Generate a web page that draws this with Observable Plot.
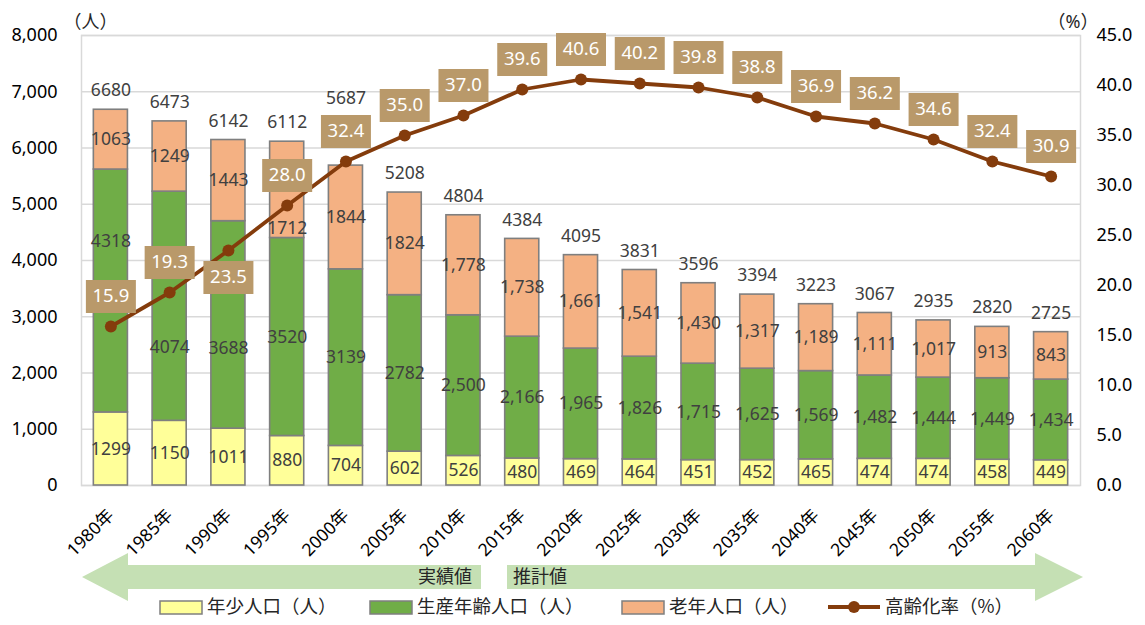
<!DOCTYPE html>
<html><head><meta charset="utf-8">
<script src="https://cdn.jsdelivr.net/npm/d3@7"></script>
<script src="https://cdn.jsdelivr.net/npm/@observablehq/plot@0.6"></script>
<style>
body{margin:0;background:#fff;font-family:"Noto Sans","Noto Sans CJK JP",sans-serif;}
#wrap{width:1145px;height:625px;position:relative;overflow:hidden;}
#below{position:absolute;left:0;top:550px;}
</style></head>
<body><div id="wrap"><div id="chart"></div>
<svg id="below" width="1145" height="75"></svg></div>
<script>
const years = [1980,1985,1990,1995,2000,2005,2010,2015,2020,2025,2030,2035,2040,2045,2050,2055,2060];
const young   = [1299,1150,1011,880,704,602,526,480,469,464,451,452,465,474,474,458,449];
const working = [4318,4074,3688,3520,3139,2782,2500,2166,1965,1826,1715,1625,1569,1482,1444,1449,1434];
const elderly = [1063,1249,1443,1712,1844,1824,1778,1738,1661,1541,1430,1317,1189,1111,1017,913,843];
const totals  = [6680,6473,6142,6112,5687,5208,4804,4384,4095,3831,3596,3394,3223,3067,2935,2820,2725];
const agingRate = [15.9,19.3,23.5,28.0,32.4,35.0,37.0,39.6,40.6,40.2,39.8,38.8,36.9,36.2,34.6,32.4,30.9];
const categories = ["年少人口（人）","生産年齢人口（人）","老年人口（人）"];
const lineName = "高齢化率（%）";
const leftTicks = [0,1000,2000,3000,4000,5000,6000,7000,8000];
const rightTicks = [0,5,10,15,20,25,30,35,40,45];

const colors = ["#FFFF99","#70AD47","#F4B183"];
const lineColor = "#843C0C";
const boxColor = "#B9996A";
const labelColor = "#404040";
const yMax = 8000, rMax = 45, k = yMax / rMax;

const series = [young, working, elderly];
const stackData = [];
const segLabels = [];
years.forEach((yr, i) => {
  let base = 0;
  series.forEach((s, c) => {
    const v = s[i];
    stackData.push({year: yr, cat: categories[c], value: v});
    const fmt = i >= 6 ? d3.format(",") : String;
    segLabels.push({year: yr, i, c, mid: base + v / 2, label: fmt(v)});
    base += v;
  });
});
// manual label nudges (pixels), as in the reference
const nudge = {"1-0": -50, "1-1": 41, "1-2": 23, "2-3": 39};
segLabels.forEach(d => d.dy = nudge[d.c + "-" + d.i] || 0);
const totalNudge = {4: -48};
const totalData = years.map((yr, i) => ({year: yr, total: totals[i], dy: -19 + (totalNudge[i] || 0)}));
const rateData = years.map((yr, i) => ({year: yr, rate: agingRate[i], yv: agingRate[i] * k, below: i === 2}));

const boxSymbol = {draw(ctx) { ctx.moveTo(-25,-16.5); ctx.lineTo(25,-16.5); ctx.lineTo(25,16.5); ctx.lineTo(-25,16.5); ctx.closePath(); }};

const segMarks = Array.from(d3.group(segLabels, d => d.dy), ([dy, arr]) =>
  Plot.text(arr, {x: "year", y: "mid", text: "label", dy, fill: labelColor, fontSize: 17.5}));
const totalMarks = Array.from(d3.group(totalData, d => d.dy), ([dy, arr]) =>
  Plot.text(arr, {x: "year", y: "total", text: d => String(d.total), dy, fill: labelColor, fontSize: 17.5}));

const rateMarks = [[false, -30], [true, 27]].flatMap(([b, dy]) => {
  const arr = rateData.filter(d => d.below === b);
  return [
    Plot.dot(arr, {x: "year", y: "yv", symbol: boxSymbol, fill: boxColor, stroke: "none", dy}),
    Plot.text(arr, {x: "year", y: "yv", text: d => d.rate.toFixed(1), fill: "#fff", fontSize: 18.5, dy})
  ];
});

const chart = Plot.plot({
  width: 1145, height: 550,
  marginTop: 35, marginBottom: 65, marginLeft: 81, marginRight: 65,
  style: {fontFamily: '"Noto Sans","Noto Sans CJK JP",sans-serif', fontSize: "18px", overflow: "visible", background: "transparent"},
  x: {type: "band", domain: years, paddingInner: 0.42, paddingOuter: 0.21, round: false, label: null, axis: null},
  y: {domain: [0, yMax], label: null},
  color: {domain: categories, range: colors},
  marks: [
    Plot.gridY(leftTicks, {stroke: "#D9D9D9", strokeOpacity: 1, strokeWidth: 1.3}),
    Plot.frame({stroke: "#D9D9D9", strokeWidth: 1.5}),
    Plot.axisY(leftTicks, {anchor: "left", tickSize: 0, tickPadding: 24, tickFormat: d3.format(","), label: null, fill: "#000", fontSize: 18}),
    Plot.axisY(rightTicks.map(v => v * k), {anchor: "right", tickSize: 0, tickPadding: 16, tickFormat: v => (v / k).toFixed(1), label: null, fill: "#000", fontSize: 18}),
    Plot.text(years, {x: d => d, frameAnchor: "bottom", text: d => d + "年", rotate: -45, textAnchor: "end", lineAnchor: "middle", dx: 0, dy: 27, fill: "#000", fontSize: 17.5}),
    Plot.barY(stackData, {x: "year", y: "value", fill: "cat", stroke: "#7F7F7F", strokeWidth: 1.6, order: categories}),
    ...segMarks,
    ...totalMarks,
    Plot.line(rateData, {x: "year", y: "yv", stroke: lineColor, strokeWidth: 3.8}),
    Plot.dot(rateData, {x: "year", y: "yv", r: 6, fill: lineColor, stroke: "none"}),
    ...rateMarks,
    Plot.text(["（人）"], {frameAnchor: "top-left", dx: -18, dy: -20, fill: "#262626", fontSize: 18}),
    Plot.text(["（%）"], {frameAnchor: "top-right", dx: 18, dy: -20, fill: "#262626", fontSize: 18})
  ]
});
document.getElementById("chart").appendChild(chart);

// arrows + legend
const svg = d3.select("#below");
const g = svg.append("g");
g.append("polygon").attr("points", "82,27 128,3 128,15 481,15 481,39 128,39 128,51").attr("fill", "#C5E0B4");
g.append("polygon").attr("points", "507,15 1035,15 1035,3 1083,27 1035,51 1035,39 507,39").attr("fill", "#C5E0B4");
g.append("text").attr("x", 472).attr("y", 28).attr("text-anchor", "end").attr("dominant-baseline", "middle")
  .attr("font-size", 18).attr("fill", "#262626").attr("font-family", '"Noto Sans CJK JP"').text("実績値");
g.append("text").attr("x", 513).attr("y", 28).attr("dominant-baseline", "middle")
  .attr("font-size", 18).attr("fill", "#262626").attr("font-family", '"Noto Sans CJK JP"').text("推計値");
const legX = [160, 370, 622];
categories.forEach((c, i) => {
  g.append("rect").attr("x", legX[i]).attr("y", 51).attr("width", 42).attr("height", 13)
    .attr("fill", colors[i]).attr("stroke", "#7F7F7F").attr("stroke-width", 1.5);
  g.append("text").attr("x", legX[i] + 47).attr("y", 58).attr("dominant-baseline", "middle")
    .attr("font-size", 18.5).attr("fill", "#262626").attr("font-family", '"Noto Sans CJK JP"').text(c);
});
g.append("line").attr("x1", 828).attr("x2", 880).attr("y1", 57).attr("y2", 57).attr("stroke", lineColor).attr("stroke-width", 3.8);
g.append("circle").attr("cx", 854).attr("cy", 57).attr("r", 6).attr("fill", lineColor);
g.append("text").attr("x", 885).attr("y", 58).attr("dominant-baseline", "middle")
  .attr("font-size", 18.5).attr("fill", "#262626").attr("font-family", '"Noto Sans CJK JP"').text(lineName);
</script></body></html>
